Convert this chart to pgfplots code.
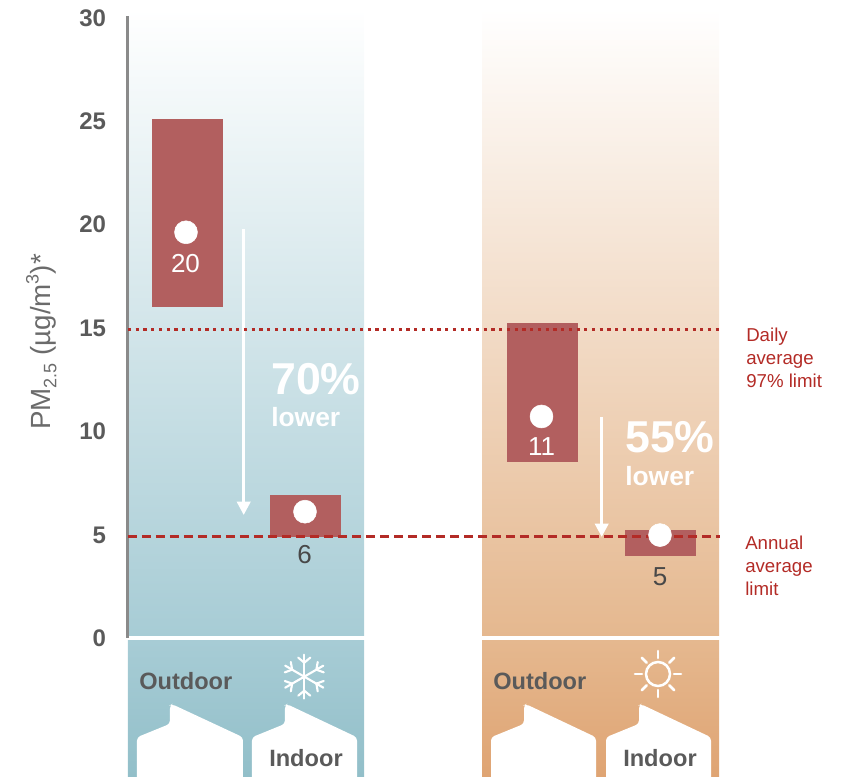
\documentclass[border=0pt]{standalone}
\usepackage{pgfplots}
\pgfplotsset{compat=1.18}
\usepackage{fontspec}
\setmainfont{Liberation Sans}
\usetikzlibrary{arrows.meta}
\definecolor{barred}{HTML}{B25F5F}
\definecolor{limitred}{HTML}{B32B26}
\definecolor{labelgrey}{HTML}{5A5A5A}
\definecolor{axisgrey}{HTML}{8A8A8A}
\definecolor{coolbot}{HTML}{A7CCD5}
\definecolor{coolpanel}{HTML}{92BFC9}
\definecolor{warmbot}{HTML}{E5B88F}
\definecolor{warmpanel}{HTML}{DFA473}
\newcommand{\fs}[1]{\fontsize{#1}{#1}\selectfont}
\begin{document}
\begin{tikzpicture}
\useasboundingbox (0,0) rectangle (638.25pt,582pt);
\begin{axis}[
  at={(96pt,102pt)}, anchor=south west,
  scale only axis, width=542.25pt, height=468pt,
  xmin=128, xmax=851, ymin=0, ymax=30.15,
  clip=false,
  axis x line=none, axis y line=left,
  y axis line style={draw=none},
  ytick={0,5,10,15,20,25,30},
  major tick length=0pt,
  /pgf/number format/assume math mode=true,
  yticklabel style={font=\fs{18}\bfseries, text=labelgrey, xshift=-13pt, yshift=1pt},
  ylabel={PM\raisebox{-0.22em}{\fs{13.5}2.5} (µg/m\raisebox{0.42em}{\fs{13.5}3})*},
  ylabel style={at={(axis description cs:-0.12,0.4775)}, anchor=center,
    font=\fs{20.8}, text=labelgrey!90!white},
]
% gradient bands behind the ranges
\addplot[draw=none, shade, top color=white, bottom color=coolbot]
  coordinates {(128,0.2)(364,0.2)(364,30.5)(128,30.5)} -- cycle;
\addplot[draw=none, shade, top color=white, bottom color=warmbot]
  coordinates {(482,0.2)(719,0.2)(719,30.5)(482,30.5)} -- cycle;
% lower panels with the outdoor and indoor captions
\addplot[draw=none, shade, top color=coolbot, bottom color=coolpanel]
  coordinates {(128,-0.02)(364,-0.02)(364,-6.6)(128,-6.6)} -- cycle;
\addplot[draw=none, shade, top color=warmbot, bottom color=warmpanel]
  coordinates {(482,-0.02)(719,-0.02)(719,-6.6)(482,-6.6)} -- cycle;
% vertical axis rule
\addplot[axisgrey, line width=2.2pt] coordinates {(127.7,0.1)(127.7,30.15)};
% houses
\addplot[draw=none, fill=white, rounded corners=2.5pt]
  coordinates {(137,-7.2)(137,-4.7)(170,-4.05)(170,-3.15)(172,-3.1)(243,-4.7)(243,-7.2)} -- cycle;
\addplot[draw=none, fill=white, rounded corners=2.5pt]
  coordinates {(252,-7.2)(252,-4.7)(285,-4.05)(285,-3.15)(287,-3.1)(357,-4.7)(357,-7.2)} -- cycle;
\addplot[draw=none, fill=white, rounded corners=2.5pt]
  coordinates {(491,-7.2)(491,-4.7)(524,-4.05)(524,-3.15)(526,-3.1)(596,-4.7)(596,-7.2)} -- cycle;
\addplot[draw=none, fill=white, rounded corners=2.5pt]
  coordinates {(606,-7.2)(606,-4.7)(639,-4.05)(639,-3.15)(641,-3.1)(711,-4.7)(711,-7.2)} -- cycle;
% concentration ranges
\addplot[draw=none, fill=barred] coordinates {(152,16.1)(223,16.1)(223,25.15)(152,25.15)} -- cycle;
\addplot[draw=none, fill=barred] coordinates {(270,5)(341,5)(341,7)(270,7)} -- cycle;
\addplot[draw=none, fill=barred] coordinates {(507,8.6)(578,8.6)(578,15.3)(507,15.3)} -- cycle;
\addplot[draw=none, fill=barred] coordinates {(625,4.05)(696,4.05)(696,5.33)(625,5.33)} -- cycle;
% reduction arrows
\addplot[white, line width=2.2pt, -{Triangle[width=10pt,length=10pt]}]
  coordinates {(243.7,19.85)(243.7,6.04)};
\addplot[white, line width=2.2pt, -{Triangle[width=10pt,length=10pt]}]
  coordinates {(601.7,10.77)(601.7,4.98)};
% central estimates
\addplot[only marks, mark=*, mark size=8.6pt, mark options={draw=white, fill=white}]
  coordinates {(186,19.7)(305,6.2)(541.5,10.8)(660,5.07)};
% limit lines
\addplot[limitred, line width=2.4pt, dash pattern=on 2.4pt off 3.4pt]
  coordinates {(128,15)(720,15)};
\addplot[limitred, line width=2.4pt, dash pattern=on 7pt off 3.5pt]
  coordinates {(128,5)(720,5)};
% value labels
\node[white, font=\fs{19.5}] at (axis cs:185.5,18.2) {20};
\node[white, font=\fs{19.5}] at (axis cs:541.5,9.37) {11};
\node[labelgrey!80!black, font=\fs{19.5}] at (axis cs:304.5,4.15) {6};
\node[labelgrey!80!black, font=\fs{19.5}] at (axis cs:660,3.04) {5};
% reduction captions
\node[white, font=\fs{33.5}\bfseries, anchor=west, inner sep=0pt] at (axis cs:271,12.6) {70\%};
\node[white, font=\fs{19.8}\bfseries, anchor=west, inner sep=0pt] at (axis cs:271,10.77) {lower};
\node[white, font=\fs{33.5}\bfseries, anchor=west, inner sep=0pt] at (axis cs:625,9.8) {55\%};
\node[white, font=\fs{19.8}\bfseries, anchor=west, inner sep=0pt] at (axis cs:625,7.92) {lower};
% limit captions
\node[limitred, font=\fs{14}, anchor=north west, align=left, inner sep=0pt] at (axis cs:746,15.07)
  {Daily\\[3pt]average\\[3pt]97\% limit};
\node[limitred, font=\fs{14}, anchor=north west, align=left, inner sep=0pt] at (axis cs:745,5.02)
  {Annual\\[3pt]average\\[3pt]limit};
% panel captions
\node[labelgrey, font=\fs{17.7}\bfseries, anchor=west, inner sep=0pt] at (axis cs:139,-2) {Outdoor};
\node[labelgrey, font=\fs{17.7}\bfseries, anchor=west, inner sep=0pt] at (axis cs:493,-2) {Outdoor};
\node[labelgrey, font=\fs{17.7}\bfseries, anchor=west, inner sep=0pt] at (axis cs:269,-5.7) {Indoor};
\node[labelgrey, font=\fs{17.7}\bfseries, anchor=west, inner sep=0pt] at (axis cs:623,-5.7) {Indoor};
\end{axis}
% snowflake icon
\begin{scope}[x=0.75pt, y=0.75pt, shift={(228.2pt,74.5pt)}]
  \foreach \a in {30,90,...,330} {
    \begin{scope}[rotate=\a]
      \draw[white, line width=1.6pt, line cap=round] (0,0) -- (22,0);
      \draw[white, line width=1.6pt, line cap=round] (14,0) -- (19,6);
      \draw[white, line width=1.6pt, line cap=round] (14,0) -- (19,-6);
    \end{scope}
  }
\end{scope}
% sun icon
\begin{scope}[x=0.75pt, y=0.75pt, shift={(493.5pt,76.5pt)}]
  \draw[white, line width=1.9pt] (0,0) circle (12);
  \foreach \a in {0,45,...,315} {
    \draw[white, line width=1.9pt, line cap=round] (\a:16) -- (\a:23);
  }
\end{scope}
\end{tikzpicture}
\end{document}
